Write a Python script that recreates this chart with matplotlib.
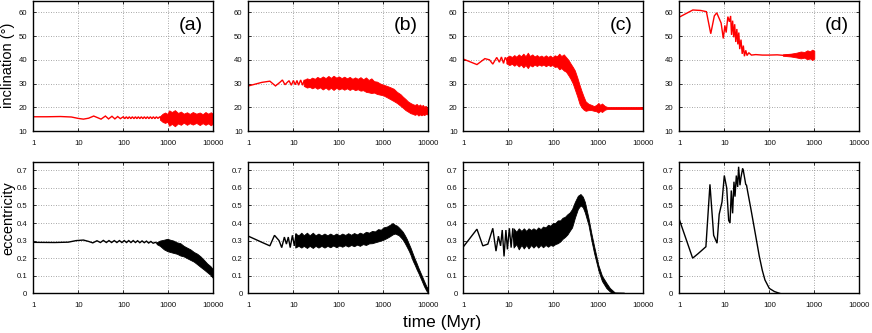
import matplotlib
matplotlib.use('Agg')
import matplotlib.pyplot as plt
from matplotlib.ticker import FixedLocator, FixedFormatter, NullLocator

plt.rcParams['font.family'] = ['Liberation Sans', 'DejaVu Sans']

# ---------------- data ----------------
panel_labels = ['(a)', '(b)', '(c)', '(d)']
x_ticks = [1, 10, 100, 1000, 10000]
x_tick_labels = ['1', '10', '100', '1000', '10000']
incl_ticks = [10, 20, 30, 40, 50, 60]
incl_tick_labels = ['10', '20', '30', '40', '50', '60']
ecc_ticks = [0, 0.1, 0.2, 0.3, 0.4, 0.5, 0.6, 0.7]
ecc_tick_labels = ['0', '0.1', '0.2', '0.3', '0.4', '0.5', '0.6', '0.7']
incl_label = 'inclination (°)'
ecc_label = 'eccentricity'
time_label = 'time (Myr)'

# (a) inclination
a_inc_t = [1, 2, 4, 7, 10, 13, 17, 22, 27, 32, 40, 47, 56, 65, 75, 86,
           100, 108, 117, 126, 136, 147, 159, 172, 186, 200, 216, 233, 252,
           272, 294, 317, 343, 370, 400, 432, 466, 504, 544, 588, 635, 686]
a_inc_v = [16.0, 16.0, 16.1, 15.9, 15.3, 15.0, 15.4, 16.3, 15.6, 15.0, 16.3,
           15.1, 16.2, 15.1, 16.1, 15.2,
           16.0, 15.2, 16.0, 15.2, 16.0, 15.2, 16.0, 15.2, 16.0, 15.2, 16.0,
           15.2, 16.0, 15.2, 16.0, 15.2, 16.0, 15.2, 16.0, 15.2, 16.0, 15.2,
           16.0, 15.3, 15.9, 15.4]
a_inc_band_t = [650, 750, 850, 950, 1050, 1200, 1400, 1650, 1900, 2200, 2600,
                3000, 3500, 4200, 5000, 5800, 6700, 7700, 8800, 10000]
a_inc_band_hi = [16.2, 17.3, 17.8, 17.2, 18.7, 18.0, 18.8, 17.6, 18.2, 17.3,
                 17.9, 17.2, 18.0, 17.3, 17.8, 17.1, 18.0, 17.3, 17.9, 17.2]
a_inc_band_lo = [14.8, 13.8, 13.4, 13.9, 12.2, 13.0, 12.0, 13.2, 12.6, 13.5,
                 12.6, 13.3, 12.7, 13.4, 12.5, 13.3, 12.6, 13.2, 12.4, 13.2]

# (a) eccentricity
a_ecc_t = [1, 3, 6, 9, 13, 17, 21, 26, 31, 36, 42, 48, 55, 63, 72, 82, 93,
           105, 118, 132, 148, 166, 186, 208, 233, 261, 292, 327, 366, 410,
           460, 520, 580]
a_ecc_v = [0.29, 0.289, 0.291, 0.300, 0.303, 0.295, 0.287, 0.299, 0.289,
           0.301, 0.289, 0.300, 0.289, 0.300, 0.289, 0.300, 0.289, 0.300,
           0.289, 0.300, 0.289, 0.300, 0.289, 0.299, 0.288, 0.298, 0.288,
           0.297, 0.286, 0.295, 0.285, 0.290, 0.282]
a_ecc_band_t = [550, 650, 800, 950, 1100, 1300, 1550, 1850, 2200, 2600, 3100,
                3700, 4400, 5200, 6200, 7300, 8600, 10000]
a_ecc_band_hi = [0.29, 0.30, 0.305, 0.31, 0.305, 0.30, 0.29, 0.285, 0.27,
                 0.26, 0.25, 0.235, 0.225, 0.21, 0.19, 0.17, 0.155, 0.135]
a_ecc_band_lo = [0.28, 0.27, 0.25, 0.24, 0.235, 0.23, 0.225, 0.215, 0.21,
                 0.20, 0.19, 0.18, 0.165, 0.15, 0.135, 0.12, 0.105, 0.085]

# (b) inclination
b_inc_t = [1, 2, 3, 4, 5, 5.7, 6.5, 7.3, 8, 9, 10, 11, 12, 13, 14.5, 16,
           17.5, 19, 20]
b_inc_v = [29.0, 30.5, 31.0, 29.0, 30.5, 31.5, 29.5, 30.5, 31.2, 29.3, 31.3,
           29.5, 31.3, 29.3, 31.5, 29.3, 31.5, 29.0, 30.0]
b_inc_band_t = [17, 20, 23, 26, 30, 34, 39, 45, 52, 60,
                68, 78, 90, 103, 118, 135, 155, 178, 205, 235,
                270, 310, 355, 410, 470, 540, 620, 720, 850, 1000,
                1200, 1400, 1700, 2000, 2400, 2700, 3100, 3500, 4000, 4500,
                5000, 5500, 6000, 6500, 7000, 7500, 8100, 8700, 9300, 10000]
b_inc_band_hi = [31.5, 32.2, 31.8, 32.5, 32.0, 32.8, 32.2, 33.0, 32.3, 33.2,
                 32.4, 33.3, 32.5, 33.0, 32.3, 32.9, 32.2, 32.8, 32.0, 32.6,
                 32.0, 32.7, 31.8, 32.6, 31.5, 32.2, 31.0, 30.8, 30.0, 29.5,
                 29.0, 28.5, 27.8, 26.5, 25.5, 24.5, 23.5, 22.5, 21.8, 21.3,
                 21.0, 21.4, 20.6, 21.2, 20.5, 21.0, 20.2, 20.6, 19.8, 19.5]
b_inc_band_lo = [29.0, 28.3, 28.6, 28.0, 28.5, 27.8, 28.4, 27.5, 28.3, 27.4,
                 28.2, 27.3, 28.2, 27.5, 28.0, 27.4, 28.0, 27.3, 27.9, 27.2,
                 27.6, 27.0, 27.2, 26.5, 26.3, 26.0, 26.2, 25.6, 25.3, 25.0,
                 24.2, 23.5, 22.6, 21.8, 20.6, 19.8, 18.8, 18.2, 17.5, 17.2,
                 16.8, 17.2, 16.5, 17.0, 16.6, 17.0, 16.7, 17.2, 17.0, 17.5]

# (b) eccentricity
b_ecc_t = [1, 2, 3, 3.8, 4.8, 5.5, 6.3, 7, 7.7, 8.5, 9.5, 10.5, 11.5, 12.5]
b_ecc_v = [0.325, 0.29, 0.27, 0.33, 0.30, 0.26, 0.32, 0.28, 0.32, 0.26, 0.33,
           0.27, 0.34, 0.30]
b_ecc_band_t = [11, 13, 15, 17, 20, 23, 27, 31, 36, 42,
                49, 57, 66, 77, 90, 105, 122, 142, 165, 192,
                223, 260, 300, 350, 410, 480, 560, 650, 760, 880,
                1000, 1200, 1400, 1600, 1800, 2000, 2200, 2500, 2700, 3000,
                3300, 3700, 4000, 4500, 5000, 5500, 6000, 7000, 8000, 9000,
                10000]
b_ecc_band_hi = [0.34, 0.33, 0.345, 0.33, 0.345, 0.33, 0.345, 0.33, 0.34, 0.33,
                 0.34, 0.33, 0.34, 0.33, 0.34, 0.33, 0.34, 0.332, 0.342, 0.333,
                 0.343, 0.335, 0.345, 0.338, 0.35, 0.345, 0.355, 0.352, 0.365,
                 0.362,
                 0.375, 0.38, 0.39, 0.40, 0.39, 0.385, 0.375, 0.36, 0.35, 0.33,
                 0.31, 0.28, 0.26, 0.225, 0.195, 0.17, 0.145, 0.105, 0.07,
                 0.04, 0.025]
b_ecc_band_lo = [0.26, 0.27, 0.26, 0.27, 0.258, 0.27, 0.258, 0.27, 0.26, 0.27,
                 0.26, 0.27, 0.262, 0.272, 0.262, 0.272, 0.265, 0.274, 0.266,
                 0.275,
                 0.268, 0.277, 0.27, 0.28, 0.275, 0.284, 0.285, 0.29, 0.295,
                 0.30,
                 0.305, 0.315, 0.325, 0.335, 0.34, 0.335, 0.33, 0.315, 0.305,
                 0.285,
                 0.265, 0.24, 0.22, 0.185, 0.16, 0.135, 0.115, 0.075, 0.04,
                 0.015, 0.0]

# (c) inclination
c_inc_t = [1, 2, 3, 3.8, 4.5, 5.5, 6.3, 7, 7.8, 8.5, 9.5]
c_inc_v = [40.3, 38.0, 40.5, 40.0, 38.2, 41.0, 39.0, 41.2, 38.5, 41.0, 39.5]
c_inc_band_t = [9, 10.5, 12, 13.5, 15, 17, 19, 21.5, 24, 27,
                30, 34, 38, 43, 48, 54, 60, 68, 76, 85,
                95, 107, 120, 135, 150, 170, 190, 215, 240, 270,
                300, 340, 380, 420, 470, 520, 600, 700, 800, 900,
                1000, 1100, 1200, 1400, 1600, 2000, 4000, 10000]
c_inc_band_hi = [41.0, 41.8, 41.2, 42.0, 41.3, 42.3, 41.5, 42.6, 41.5, 43.0,
                 41.6, 42.3, 41.4, 42.0, 41.3, 41.8, 41.2, 41.9, 41.2, 41.8,
                 41.0, 41.9, 41.5, 42.6, 41.6, 42.3, 41.2, 40.0, 38.5, 37.0,
                 35.5, 32.5, 29.5, 27.0, 24.5, 22.5, 21.5, 21.0, 20.5, 21.0,
                 21.8, 21.0, 21.6, 20.5, 20.1, 20.1, 20.1, 20.1]
c_inc_band_lo = [38.5, 37.8, 38.3, 37.5, 38.2, 37.2, 38.0, 36.8, 37.8, 36.5,
                 37.8, 37.2, 38.0, 37.4, 38.0, 37.5, 38.0, 37.3, 37.9, 37.4,
                 37.8, 37.0, 37.2, 36.0, 36.5, 35.5, 35.0, 33.5, 32.0, 30.0,
                 27.5, 24.5, 21.5, 20.0, 19.0, 18.5, 18.8, 18.8, 18.5, 18.3,
                 17.8, 18.5, 18.0, 19.0, 19.3, 19.3, 19.3, 19.3]

# (c) eccentricity
c_ecc_t = [1, 2, 2.7, 3.5, 4.5, 5.3, 6, 6.7, 7.3, 8, 8.8, 9.5, 10.5, 11.5,
           12.5, 13.5]
c_ecc_v = [0.265, 0.365, 0.27, 0.28, 0.37, 0.24, 0.325, 0.27, 0.36, 0.21,
           0.36, 0.25, 0.37, 0.26, 0.37, 0.27]
c_ecc_tail_t = [2000, 2500, 3700]
c_ecc_tail_v = [0.004, 0.001, 0.0]
c_ecc_band_t = [13, 15, 17, 19.5, 22, 25, 28, 32, 36, 41,
                46, 52, 59, 67, 76, 86, 97, 110, 125, 142,
                160, 180, 205, 230, 260, 300, 350, 400, 450, 500,
                600, 700, 800, 1000, 1200, 1500, 1800, 2200]
c_ecc_band_hi = [0.37, 0.35, 0.37, 0.355, 0.37, 0.355, 0.37, 0.36, 0.37, 0.36,
                 0.375, 0.365, 0.38, 0.375, 0.39, 0.385, 0.40, 0.40, 0.415,
                 0.415,
                 0.43, 0.435, 0.45, 0.46, 0.48, 0.52, 0.555, 0.565, 0.55,
                 0.52,
                 0.43, 0.34, 0.27, 0.16, 0.10, 0.06, 0.03, 0.01]
c_ecc_band_lo = [0.26, 0.28, 0.25, 0.275, 0.255, 0.275, 0.255, 0.275, 0.26,
                 0.275,
                 0.26, 0.275, 0.262, 0.275, 0.265, 0.275, 0.27, 0.28, 0.285,
                 0.295,
                 0.31, 0.32, 0.335, 0.355, 0.375, 0.43, 0.48, 0.50, 0.49,
                 0.46,
                 0.39, 0.30, 0.23, 0.13, 0.07, 0.03, 0.01, 0.0]

# (d) inclination
d_inc_t = [1, 2, 3, 4, 5, 6, 6.8, 8.5, 9.5, 10.3, 11, 12, 13, 13.8, 14.5,
           15.3, 16.2, 17, 18, 19, 20, 21, 22, 23.5, 25, 26.5, 28, 30, 32, 35,
           40, 50, 70, 100, 150, 200, 300, 400]
d_inc_v = [58.0, 61.0, 60.8, 60.3, 51.0, 58.5, 59.8, 55.5, 49.0, 54.5, 51.5,
           58.2, 56.0, 58.5, 50.5, 56.5, 49.5, 55.0, 47.5, 53.0, 46.5, 51.5,
           44.5, 48.5, 42.5, 46.0, 41.5, 44.0, 41.8, 43.0, 42.0, 42.2, 42.0,
           42.0, 42.1, 41.9, 42.1, 41.9]
d_inc_band_t = [200, 300, 400, 500, 600, 700, 800, 900, 1000]
d_inc_band_hi = [42.3, 42.6, 43.0, 43.5, 43.3, 44.0, 43.6, 44.3, 43.8]
d_inc_band_lo = [41.7, 41.4, 41.0, 40.6, 40.9, 40.2, 40.6, 39.9, 40.5]

# (d) eccentricity
d_ecc_t = [1, 1.98, 2.6, 3.9, 4.8, 5.8, 6.9, 7.7, 8.9, 10, 11.3, 12.5, 13.4,
           14.3, 15.3, 16.4, 17.3, 18.5, 19.8, 20.8, 22.3, 23.5, 25.5, 26.4,
           28.8, 29.9, 31.2, 33, 39, 49.6, 60, 70, 80, 100, 130, 160, 170]
d_ecc_v = [0.42, 0.20, 0.225, 0.265, 0.62, 0.33, 0.285, 0.45, 0.52, 0.67,
           0.60, 0.415, 0.40, 0.585, 0.455, 0.635, 0.55, 0.67, 0.605, 0.72,
           0.615, 0.66, 0.71, 0.70, 0.645, 0.62, 0.615, 0.58, 0.48, 0.33,
           0.21, 0.13, 0.076, 0.028, 0.01, 0.002, 0.0]

# ---------------- figure ----------------
W, H = 872, 333
fig = plt.figure(figsize=(W / 100, H / 100), dpi=100)

lefts = [33.3, 248.4, 463.4, 679.3]
width = 180.0
top_row = (0.5, 131.0)      # (top px, bottom px)
bot_row = (161.5, 293.3)

RED = '#ff0000'
BLK = '#000000'

incl_data = [
    (a_inc_t, a_inc_v, a_inc_band_t, a_inc_band_lo, a_inc_band_hi),
    (b_inc_t, b_inc_v, b_inc_band_t, b_inc_band_lo, b_inc_band_hi),
    (c_inc_t, c_inc_v, c_inc_band_t, c_inc_band_lo, c_inc_band_hi),
    (d_inc_t, d_inc_v, d_inc_band_t, d_inc_band_lo, d_inc_band_hi),
]
ecc_data = [
    (a_ecc_t, a_ecc_v, a_ecc_band_t, a_ecc_band_lo, a_ecc_band_hi),
    (b_ecc_t, b_ecc_v, b_ecc_band_t, b_ecc_band_lo, b_ecc_band_hi),
    (c_ecc_t, c_ecc_v, c_ecc_band_t, c_ecc_band_lo, c_ecc_band_hi),
    (d_ecc_t, d_ecc_v, None, None, None),
]


def style_axis(ax, yticks, ylabels, ylim):
    ax.set_xscale('log')
    ax.set_xlim(1, 10000)
    ax.set_ylim(*ylim)
    ax.xaxis.set_major_locator(FixedLocator(x_ticks))
    ax.xaxis.set_major_formatter(FixedFormatter(x_tick_labels))
    ax.xaxis.set_minor_locator(NullLocator())
    ax.yaxis.set_major_locator(FixedLocator(yticks))
    ax.yaxis.set_major_formatter(FixedFormatter(ylabels))
    ax.yaxis.set_minor_locator(NullLocator())
    ax.grid(True, which='major', color='#8a8a8a', linestyle=(0, (1, 2)),
            linewidth=0.6)
    ax.set_axisbelow(True)
    ax.tick_params(axis='both', which='major', direction='in', length=2.5,
                   width=0.6, top=True, right=True, labelsize=5.6,
                   colors='#111111')
    ax.tick_params(axis='x', pad=6.5)
    ax.tick_params(axis='y', pad=4.2)
    for s in ax.spines.values():
        s.set_linewidth(1.0)
        s.set_color('black')


def add_axes(left_px, row):
    top_px, bot_px = row
    return fig.add_axes([left_px / W, (H - bot_px) / H, width / W,
                         (bot_px - top_px) / H])


for i in range(4):
    # inclination
    ax = add_axes(lefts[i], top_row)
    style_axis(ax, incl_ticks, incl_tick_labels, (10, 65))
    t, v, bt, blo, bhi = incl_data[i]
    ax.plot(t, v, color=RED, lw=1.0, solid_joinstyle='miter')
    if bt is not None:
        ax.fill_between(bt, blo, bhi, color=RED, lw=0.6, edgecolor=RED)
    ax.text(0.876, 0.81, panel_labels[i], transform=ax.transAxes,
            fontsize=14, ha='center', va='center')

    # eccentricity
    ax2 = add_axes(lefts[i], bot_row)
    style_axis(ax2, ecc_ticks, ecc_tick_labels, (0, 0.75))
    t, v, bt, blo, bhi = ecc_data[i]
    ax2.plot(t, v, color=BLK, lw=1.0, solid_joinstyle='miter')
    if bt is not None:
        ax2.fill_between(bt, blo, bhi, color=BLK, lw=0.6, edgecolor=BLK)
    if i == 2:
        ax2.plot(c_ecc_tail_t, c_ecc_tail_v, color=BLK, lw=1.0,
                 clip_on=False)

fig.text(8 / W, (H - 65) / H, incl_label, rotation=90, fontsize=10.5,
         ha='center', va='center')
fig.text(8 / W, (H - 218.5) / H, ecc_label, rotation=90, fontsize=10.5,
         ha='center', va='center')
fig.text(442 / W, (H - 322) / H, time_label, fontsize=12.5,
         ha='center', va='center')

fig.savefig('out.png', dpi=100)
